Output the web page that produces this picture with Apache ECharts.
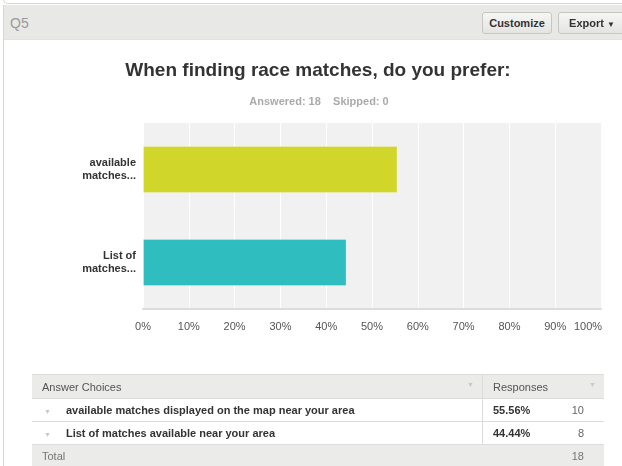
<!DOCTYPE html>
<html>
<head>
<meta charset="utf-8">
<script src="https://cdn.jsdelivr.net/npm/echarts@6/dist/echarts.min.js"></script>
<style>
  html, body { margin:0; padding:0; width:622px; height:466px; overflow:hidden; background:#fff; font-family:"Liberation Sans", Arial, sans-serif; }
  #prev { position:absolute; left:3px; top:-6px; width:640px; height:9px; border-left:1px solid #d6d6d6; border-bottom:1px solid #d6d6d6; border-bottom-left-radius:5px; background:#fff; }
  #card { position:absolute; left:3px; top:5px; width:640px; height:470px; border-left:1px solid #d6d6d6; }
  #hdr { position:absolute; left:4px; top:5px; width:618px; height:34px; background:#e8e8e6; border-bottom:1px solid #e2e2e0; }
  #q { position:absolute; left:6px; top:10px; font-size:14px; color:#9a9a9a; }
  .btn { position:absolute; top:7px; height:20px; border:1px solid #c6c6c4; border-radius:3px; background:linear-gradient(#f6f6f4,#e4e4e2); font-size:11px; font-weight:bold; color:#333; line-height:20px; text-align:center; box-sizing:content-box; }
  #chart { position:absolute; left:0; top:0; width:622px; height:466px; }
  table { position:absolute; left:32px; top:374px; width:572px; border-collapse:collapse; font-size:11px; }
  td { height:22px; padding:0; border-top:1px solid #dcdcdc; }
  tr.h td, tr.t td { background:#ebebea; color:#555; font-weight:normal; }
  tr.t td { color:#777; height:21px; }
  tr.r td { color:#333; font-weight:bold; }
  .arr { color:#c8c8c8; font-size:7px; font-weight:normal; }
  .div { border-left:1px solid #dcdcdc; }
</style>
</head>
<body>
<div id="chart"></div>
<div id="prev"></div>
<div id="card"></div>
<div id="hdr">
  <div id="q">Q5</div>
  <div class="btn" style="left:478px;width:68px;">Customize</div>
  <div class="btn" style="left:554px;width:66px;">Export <span style="font-size:8px">&#9660;</span></div>
</div>
<table id="tbl"></table>
<script>
const titleText = "When finding race matches, do you prefer:";
const subText = "Answered: 18    Skipped: 0";
const categories = ["available\nmatches...", "List of\nmatches..."];
const fullChoices = ["available matches displayed on the map near your area", "List of matches available near your area"];
const percents = [55.56, 44.44];
const counts = [10, 8];
const total = 18;
const barColors = ["#d0d62a", "#2fbdbf"];
const xTicks = [0, 10, 20, 30, 40, 50, 60, 70, 80, 90, 100];

// table
let html = '<tr class="h"><td style="padding-left:10px;width:440px;height:23px;">Answer Choices<span class="arr" style="float:right;margin-right:8px;">&#9660;</span></td>' +
  '<td class="div" style="padding-left:10px;" colspan="2">Responses<span class="arr" style="float:right;margin-right:8px;">&#9660;</span></td></tr>';
for (let i = 0; i < fullChoices.length; i++) {
  html += '<tr class="r"><td style="padding-left:12px;"><span class="arr" style="margin-right:15px;">&#9660;</span>' + fullChoices[i] + '</td>' +
    '<td class="div" style="padding-left:10px;width:60px;">' + percents[i].toFixed(2) + '%</td>' +
    '<td style="text-align:right;padding-right:20px;font-weight:normal;color:#666;">' + counts[i] + '</td></tr>';
}
html += '<tr class="t"><td style="padding-left:10px;">Total</td><td></td><td style="text-align:right;padding-right:20px;">' + total + '</td></tr>';
document.getElementById('tbl').innerHTML = html;

const chart = echarts.init(document.getElementById('chart'), null, { renderer: 'canvas' });
chart.setOption({
  animation: false,
  title: [
    { text: titleText, left: 313, textAlign: 'center', top: 56,
      textStyle: { fontFamily: 'Liberation Sans', fontSize: 19, fontWeight: 'bold', color: '#333' } },
    { text: subText, left: 314, textAlign: 'center', top: 91,
      textStyle: { fontFamily: 'Liberation Sans', fontSize: 11, fontWeight: 'bold', color: '#aaa' } }
  ],
  grid: { left: 143, right: 21, top: 123, bottom: 157, show: true, backgroundColor: '#f0f1f0', borderWidth: 0 },
  xAxis: {
    type: 'value', min: 0, max: 100, interval: 10,
    axisLine: { show: true, onZero: false, lineStyle: { color: '#dcdcdc', width: 2 } },
    axisTick: { show: false },
    splitLine: { show: true, lineStyle: { color: '#ffffff', width: 1 } },
    axisLabel: {
      margin: 12, fontFamily: 'Liberation Sans', fontSize: 11, color: '#555',
      formatter: function (v) { return v === 100 ? '{a|' + v + '%}{b|}' : v + '%'; },
      rich: { a: { fontFamily: 'Liberation Sans', fontSize: 11, color: '#555' }, b: { width: 26 } }
    }
  },
  yAxis: {
    type: 'category', data: categories, inverse: true,
    axisLine: { show: false }, axisTick: { show: false },
    splitLine: { show: false },
    axisLabel: { margin: 7, fontFamily: 'Liberation Sans', fontSize: 11, fontWeight: 'bold', color: '#333', lineHeight: 13 }
  },
  series: [{
    type: 'bar', barWidth: 47,
    data: percents.map((v, i) => ({ value: v, itemStyle: { color: barColors[i] } })),
    itemStyle: { borderColor: 'rgba(255,255,255,0.25)', borderWidth: 1 }
  }]
});
</script>
</body>
</html>
